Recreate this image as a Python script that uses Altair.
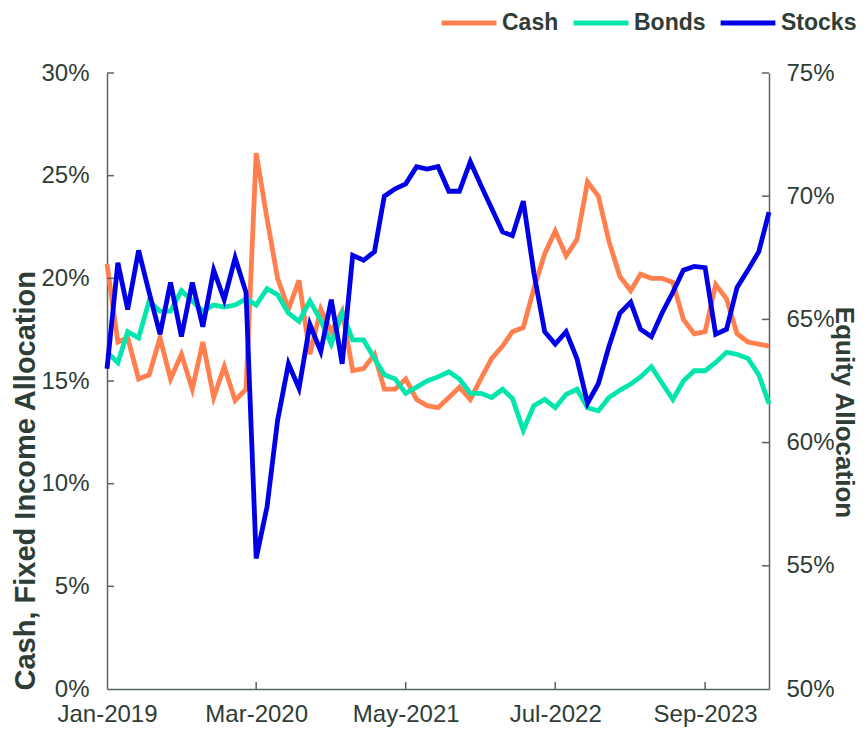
import altair as alt
import pandas as pd

# ---- data ----
n_months = 63  # Jan-2019 .. Mar-2024
months = [f"{2019 + (i // 12)}-{(i % 12) + 1:02d}-01T00:00:00" for i in range(n_months)]

cash = [20.7, 16.9, 17.1, 15.1, 15.3, 17.1, 15.1, 16.3, 14.6, 16.9,
        14.2, 15.7, 14.05, 14.6, 26.1, 22.9, 20.0, 18.5, 19.9, 16.3,
        18.5, 17.4, 18.4, 15.5, 15.6, 16.3, 14.6, 14.6, 15.1, 14.1,
        13.8, 13.7, 14.2, 14.7, 14.1, 15.1, 16.1, 16.7, 17.4, 17.6,
        19.5, 21.2, 22.3, 21.1, 21.9, 24.7, 24.0, 21.8, 20.1, 19.4,
        20.2, 20.0, 20.0, 19.8, 18.0, 17.3, 17.4, 19.7, 19.0, 17.3,
        16.9, 16.8, 16.7]
bonds = [16.4, 15.9, 17.4, 17.1, 18.9, 18.4, 18.4, 19.4, 18.9, 18.4,
         18.7, 18.6, 18.7, 19.0, 18.7, 19.5, 19.2, 18.3, 17.9, 18.9,
         17.95, 16.8, 18.3, 17.0, 17.0, 16.1, 15.3, 15.1, 14.4, 14.7,
         15.0, 15.2, 15.45, 15.1, 14.4, 14.4, 14.2, 14.6, 14.15, 12.6,
         13.8, 14.1, 13.7, 14.35, 14.6, 13.7, 13.55, 14.2, 14.55, 14.85,
         15.2, 15.7, 14.9, 14.1, 15.0, 15.5, 15.5, 15.9, 16.4, 16.3,
         16.1, 15.3, 13.9]
stocks = [63.0, 67.3, 65.4, 67.8, 66.1, 64.4, 66.5, 64.3, 66.5, 64.7,
          67.0, 65.8, 67.5, 66.1, 55.3, 57.4, 60.9, 63.2, 62.2, 64.8,
          63.7, 65.8, 63.2, 67.6, 67.4, 67.75, 70.0, 70.3, 70.5, 71.2,
          71.1, 71.2, 70.2, 70.2, 71.4, 70.45, 69.5, 68.55, 68.4, 69.8,
          66.9, 64.5, 64.0, 64.5, 63.4, 61.6, 62.4, 63.9, 65.25, 65.7,
          64.6, 64.3, 65.25, 66.1, 67.0, 67.15, 67.1, 64.4, 64.6, 66.3,
          67.0, 67.75, 69.35]

series_names = ["Cash", "Bonds", "Stocks"]
series_colors = ["#FF7F4F", "#00E6AC", "#0000E6"]
left_ticks = [0, 5, 10, 15, 20, 25, 30]
right_ticks = [50, 55, 60, 65, 70, 75]
x_tick_dates = ["2019-01-01T00:00:00", "2020-03-01T00:00:00", "2021-05-01T00:00:00",
                "2022-07-01T00:00:00", "2023-09-01T00:00:00"]

TEXT = "#2E3D35"
AXIS = "#56645B"
FONT = "Liberation Sans"
W, H = 662, 616
LABEL_SIZE = 24

left_df = pd.DataFrame({
    "date": months * 2,
    "series": ["Cash"] * n_months + ["Bonds"] * n_months,
    "value": cash + bonds,
})
right_df = pd.DataFrame({"date": months, "series": ["Stocks"] * n_months, "value": stocks})

x_domain = [alt.DateTime(year=2019, month=1, date=1), alt.DateTime(year=2024, month=3, date=1)]
x_scale = alt.Scale(domain=x_domain, nice=False)
x_axis = alt.Axis(values=[alt.DateTime(year=2019, month=1, date=1),
                          alt.DateTime(year=2020, month=3, date=1),
                          alt.DateTime(year=2021, month=5, date=1),
                          alt.DateTime(year=2022, month=7, date=1),
                          alt.DateTime(year=2023, month=9, date=1)],
                  format="%b-%Y", title=None, ticks=False, grid=False,
                  labelFlush=False, labelPadding=13, labelFontSize=LABEL_SIZE,
                  labelFont=FONT, labelColor=TEXT, domainColor=AXIS, domainWidth=1.5)

left_axis = alt.Axis(values=left_ticks, labelExpr="datum.value + '%'",
                     title="Cash, Fixed Income Allocation", ticks=False, grid=False,
                     labelFlush=False, labelPadding=18, labelFontSize=LABEL_SIZE,
                     labelFont=FONT, labelColor=TEXT, domainColor=AXIS, domainWidth=1.5,
                     titleFont=FONT, titleFontSize=29, titleFontWeight="bold",
                     titleColor=TEXT, titleAngle=270, titleAlign="left",
                     titleBaseline="middle", titleX=-82, titleY=H + 1)

right_axis = alt.Axis(orient="right", values=right_ticks,
                      labelExpr="datum.value + '%'",
                      title="Equity Allocation", ticks=False, grid=False,
                      labelFlush=False, labelPadding=17, labelFontSize=LABEL_SIZE,
                      labelFont=FONT, labelColor=TEXT, domainColor=AXIS, domainWidth=1.5,
                      titleFont=FONT, titleFontSize=26, titleFontWeight="bold",
                      titleColor=TEXT, titleAngle=90, titleAlign="center",
                      titleBaseline="middle", titleX=74, titleY=339)

color = alt.Color("series:N",
                  scale=alt.Scale(domain=series_names, range=series_colors),
                  legend=alt.Legend(orient="none", legendX=332, legendY=-80,
                                    direction="horizontal", title=None,
                                    symbolType="stroke", symbolSize=3000,
                                    symbolStrokeWidth=5, labelFontSize=23,
                                    labelFont=FONT, labelFontWeight="bold",
                                    labelColor=TEXT, columnPadding=4,
                                    labelOffset=3, padding=0))

left_scale = alt.Scale(domain=[0, 30], nice=False)
right_scale = alt.Scale(domain=[50, 75], nice=False)

left_lines = alt.Chart(left_df).mark_line(strokeWidth=4.8).encode(
    x=alt.X("date:T", scale=x_scale, axis=x_axis),
    y=alt.Y("value:Q", scale=left_scale, axis=left_axis),
    color=color,
)

left_tick_marks = alt.Chart(pd.DataFrame({"v": left_ticks[1:]})).mark_rule(
    color=AXIS, strokeWidth=1.5).encode(
    y=alt.Y("v:Q", scale=left_scale, axis=left_axis),
    x=alt.value(0), x2=alt.value(7),
)

x_tick_marks = alt.Chart(pd.DataFrame({"date": x_tick_dates[1:]})).mark_rule(
    color=AXIS, strokeWidth=1.5).encode(
    x=alt.X("date:T", scale=x_scale, axis=x_axis),
    y=alt.value(H), y2=alt.value(H - 7),
)

right_lines = alt.Chart(right_df).mark_line(strokeWidth=4.8).encode(
    x=alt.X("date:T", scale=x_scale, axis=x_axis),
    y=alt.Y("value:Q", scale=right_scale, axis=right_axis),
    color=color,
)

right_tick_marks = alt.Chart(pd.DataFrame({"v": right_ticks[1:]})).mark_rule(
    color=AXIS, strokeWidth=1.5).encode(
    y=alt.Y("v:Q", scale=right_scale, axis=right_axis),
    x=alt.value(W), x2=alt.value(W - 7),
)

left = alt.layer(left_lines, left_tick_marks, x_tick_marks)
right = alt.layer(right_lines, right_tick_marks)

chart = alt.layer(left, right).resolve_scale(y="independent").properties(
    width=W, height=H,
    autosize=alt.AutoSizeParams(type="none"),
    padding={"left": 99, "top": 65, "right": 91, "bottom": 44},
).configure_view(stroke=None)

chart.save("out.html", embed_options={"renderer": "svg", "actions": False})
